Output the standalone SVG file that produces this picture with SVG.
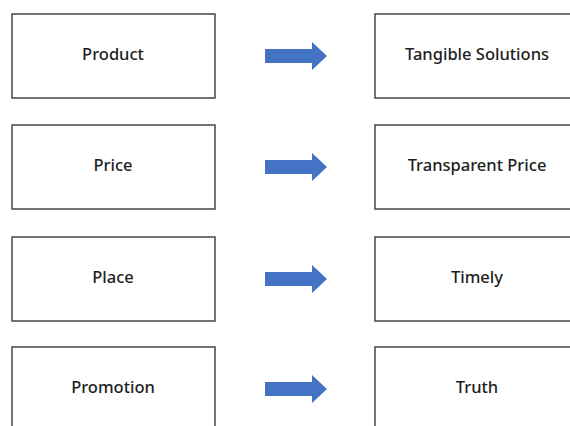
<svg xmlns="http://www.w3.org/2000/svg" width="570" height="426" viewBox="0 0 570 426">
  <defs>
    <style>
      .box { fill: #ffffff; stroke: #3a3a3a; stroke-width: 1.4; }
      .label { font-family: "Noto Sans", "DejaVu Sans", sans-serif; font-size: 16.5px; font-weight: 500; fill: #1e1e1e; text-anchor: middle; }
      .arrow { fill: #4472c4; }
    </style>
    <!-- block arrow shape, tail at origin, pointing right -->
    <path id="blockArrow" class="arrow" d="M0,-7 L47,-7 L47,-14 L62,0 L47,14 L47,7 L0,7 Z"/>
  </defs>
  <rect width="570" height="426" fill="#ffffff"/>

  <!-- left column: marketing mix -->
  <g id="node-product"><rect class="box" x="12" y="14" width="203" height="84"/><text class="label" x="113" y="60">Product</text></g>
  <g id="node-price"><rect class="box" x="12" y="125" width="203" height="84"/><text class="label" x="113" y="171">Price</text></g>
  <g id="node-place"><rect class="box" x="12" y="237" width="203" height="84"/><text class="label" x="113" y="283">Place</text></g>
  <g id="node-promotion"><rect class="box" x="12" y="347" width="203" height="84"/><text class="label" x="113" y="393">Promotion</text></g>

  <!-- right column: mapped principles -->
  <g id="node-tangible"><rect class="box" x="375" y="14" width="210" height="84"/><text class="label" x="477" y="60">Tangible Solutions</text></g>
  <g id="node-transparent"><rect class="box" x="375" y="125" width="210" height="84"/><text class="label" x="477" y="171">Transparent Price</text></g>
  <g id="node-timely"><rect class="box" x="375" y="237" width="210" height="84"/><text class="label" x="477" y="283">Timely</text></g>
  <g id="node-truth"><rect class="box" x="375" y="347" width="210" height="84"/><text class="label" x="477" y="393">Truth</text></g>

  <!-- connectors -->
  <g id="connectors">
    <use href="#blockArrow" x="265" y="56"/>
    <use href="#blockArrow" x="265" y="167"/>
    <use href="#blockArrow" x="265" y="279"/>
    <use href="#blockArrow" x="265" y="389"/>
  </g>
</svg>
